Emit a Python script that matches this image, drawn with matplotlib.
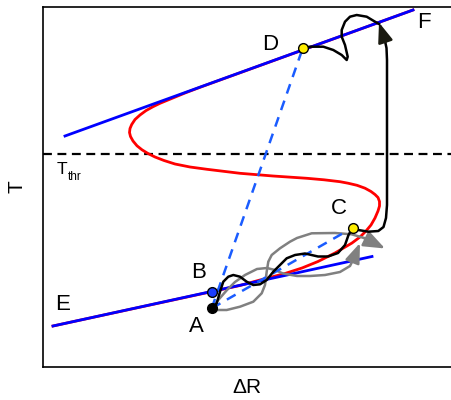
import numpy as np
import matplotlib
matplotlib.use("Agg")
import matplotlib.pyplot as plt

plt.rcParams["font.family"] = ["Liberation Sans", "DejaVu Sans"]

# ── schematic geometry (pixel-like units, y grows downward) ────────────────────
# lower (cold) branch asymptote E and upper (hot) branch asymptote F
line_E_x = [53, 372]
line_E_y = [326, 256.5]
line_F_x = [65, 413]
line_F_y = [136, 10]

# S-shaped equilibrium curve
s_x = [53, 150, 211, 240, 260, 285, 302, 318, 335, 352, 360, 366, 371, 375, 378,
       379.5, 379.5, 378, 375, 371, 365, 357, 348, 340, 324, 307, 273, 240, 207,
       190, 175, 164, 155, 148, 142, 137, 133, 130.5, 129.5, 130, 131.7, 135, 140,
       146, 153, 160, 168, 185, 200, 413]
s_y = [326, 305, 291.8, 285.5, 280, 273.5, 268, 261.5, 253, 243, 237, 231, 225,
       218, 211, 206, 201.5, 197.5, 194.5, 191.5, 188.2, 185.3, 183.2, 181.7, 179.8,
       178.3, 176, 173.3, 169.3, 167, 164, 160.5, 157, 153.5, 149.8, 145.8, 141,
       136.5, 132.5, 128.5, 124.5, 119.5, 115, 110.6, 106.7, 103.3, 100, 93, 87.3,
       10]

# threshold temperature
T_thr = 154

# states
pts = {
    "A": (211.7, 308.3),
    "B": (211.7, 291.7),
    "C": (352.7, 227.7),
    "D": (302.7, 48.3),
}
labels = {"A": (196, 326), "B": (199, 273), "C": (339, 209), "D": (270, 45),
          "E": (63, 305), "F": (424, 22)}

# black trajectory A -> C -> jump up
traj1_x = [211.7, 216.7, 220, 223.3, 228.3, 233.3, 240, 246.7, 253.3, 260, 266.7,
           273.3, 280, 286.7, 295, 305, 318, 328, 338, 345, 348.5, 352.7, 358.3,
           368.3, 378.3, 383.5, 386, 387, 387, 386.5, 385]
traj1_y = [308.3, 303.3, 291.7, 281.7, 276.7, 275, 276.7, 281.7, 285, 284.3, 280,
           271.7, 265, 258.3, 255, 253.5, 256.5, 256.5, 253, 245, 235, 227.7, 230,
           231.7, 231, 227, 218, 205, 60, 48, 41]
arrow1_tail = (385.5, 42)
arrow1_head = (379, 22.5)

# black wiggle from D
traj2_x = [302.7, 310, 323.3, 333.3, 341.7, 346.7, 347.7, 345, 341.7, 341.7, 345,
           350, 356.7, 366.7, 375, 379]
traj2_y = [48.3, 46.7, 46.7, 50, 55, 60, 56.7, 45, 36.7, 30, 21.7, 16.7, 15,
           16.7, 21.7, 24]

# gray alternative paths
gray1_x = [213, 226.7, 240, 253.3, 261.7, 265, 266.7, 268.3, 271.7, 280, 290, 297,
           311.7, 335, 351.7, 364]
gray1_y = [310, 310, 306.7, 301.7, 293.3, 285, 271.7, 261.7, 255, 248.3, 241.7, 238,
           233.3, 233, 234.3, 238]
gray1_head = (385, 248.5)

gray2_x = [213, 220, 227, 235, 245, 257, 267, 275, 283, 297, 310, 325, 340, 350, 354]
gray2_y = [306, 298, 290, 282, 275, 269, 268, 270, 273.5, 276, 276, 275, 272, 266, 258]
gray2_head = (360, 243)

# ── plot ───────────────────────────────────────────────────────────────────────
fig = plt.figure(figsize=(4.51, 4.0), dpi=100)
ax = fig.add_axes([43 / 451, 33 / 400, 408 / 451, 360 / 400])
ax.set_xlim(43, 451)
ax.set_ylim(367, 7)

ax.axhline(T_thr, color="black", lw=1.6, ls=(0, (4, 2.5)), zorder=2)

ax.plot(s_x, s_y, color="red", lw=2, zorder=3, solid_joinstyle="round")
ax.plot(line_E_x, line_E_y, color="#0000ff", lw=2, zorder=4)
ax.plot(line_F_x, line_F_y, color="#0000ff", lw=2, zorder=4)

gray = "#808080"
ax.plot(gray1_x, gray1_y, color=gray, lw=1.8, zorder=5)
ax.annotate("", xy=gray1_head, xytext=(gray1_x[-1], gray1_y[-1]),
            arrowprops=dict(arrowstyle="-|>,head_length=1.3,head_width=0.5",
                            color=gray, lw=1.8, shrinkA=0, shrinkB=0), zorder=5)
ax.plot(gray2_x, gray2_y, color=gray, lw=1.8, zorder=5)
ax.annotate("", xy=gray2_head, xytext=(gray2_x[-1], gray2_y[-1]),
            arrowprops=dict(arrowstyle="-|>,head_length=1.2,head_width=0.45",
                            color=gray, lw=1.8, shrinkA=0, shrinkB=0), zorder=5)

# dashed chords A-D, A-C
dash_blue = "#1a5cff"
for k in ["D", "C"]:
    ax.plot([pts["A"][0], pts[k][0]], [pts["A"][1], pts[k][1]], color=dash_blue,
            lw=1.8, ls=(0, (4, 3)), zorder=6)

ax.plot(traj1_x, traj1_y, color="black", lw=1.8, zorder=7, solid_joinstyle="round")
ax.annotate("", xy=arrow1_head, xytext=arrow1_tail,
            arrowprops=dict(arrowstyle="-|>,head_length=1.2,head_width=0.45",
                            color="#1a1a10", lw=1.8, shrinkA=0, shrinkB=0), zorder=7)
ax.plot(traj2_x, traj2_y, color="black", lw=1.8, zorder=7, solid_joinstyle="round")

ax.plot(*pts["A"], "o", color="black", ms=7, zorder=8)
ax.plot(*pts["B"], "o", mfc="#1a3cff", mec="black", mew=1, ms=7, zorder=8)
ax.plot(*pts["C"], "o", mfc="#ffee00", mec="black", mew=1, ms=7, zorder=8)
ax.plot(*pts["D"], "o", mfc="#ffee00", mec="black", mew=1, ms=7, zorder=8)

for name, (x, y) in labels.items():
    ax.text(x, y, name, fontsize=16, ha="center", va="center", zorder=9)

ax.text(57, 170, "T", fontsize=12.5, ha="left", va="center")
ax.text(67.5, 176.5, "thr", fontsize=8.5, ha="left", va="center")

ax.set_xticks([])
ax.set_yticks([])
ax.spines["right"].set_visible(False)
for s in ["left", "top", "bottom"]:
    ax.spines[s].set_linewidth(1.2)

ax.set_xlabel("ΔR", fontsize=15, labelpad=8)
ax.set_ylabel("T", fontsize=15, labelpad=12)

fig.savefig("out.png", dpi=100)
